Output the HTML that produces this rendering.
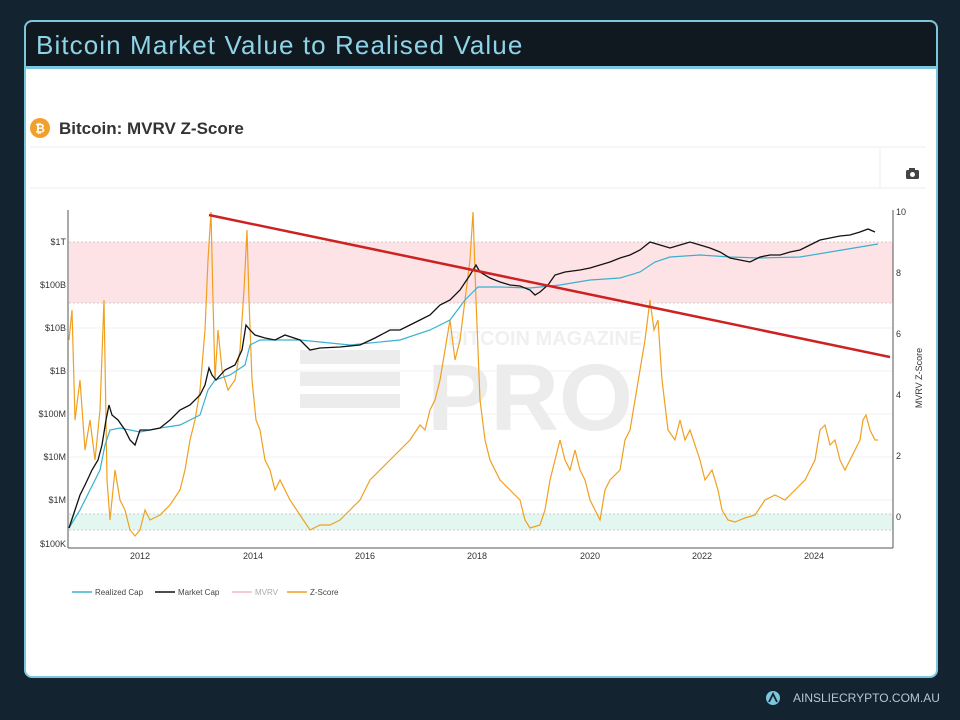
<!DOCTYPE html><html><head><style>
body{margin:0;width:960px;height:720px;background:#13232f;font-family:"Liberation Sans",sans-serif;position:relative;overflow:hidden}
.card{position:absolute;left:24px;top:20px;width:910px;height:654px;border:2px solid #7cc7dd;border-radius:8px;background:#fff;overflow:hidden}
.hdr{height:44px;background:#101820;border-bottom:3px solid #7cc7dd;color:#8fd3e6;font-size:26px;line-height:46px;padding-left:10px;letter-spacing:1.1px}
.foot{position:absolute;left:793px;top:691px;color:#b9c6cf;font-size:12px;letter-spacing:0}
</style></head><body>
<div class="card"><div class="hdr">Bitcoin Market Value to Realised Value</div></div>
<svg width="960" height="720" style="position:absolute;left:0;top:0">
<circle cx="40" cy="128" r="10" fill="#f2a02c"/><text x="40" y="132.5" font-size="12" fill="#fff" text-anchor="middle" font-weight="bold">₿</text>
<text x="59" y="134" font-size="17" font-weight="bold" fill="#333">Bitcoin: MVRV Z-Score</text>
<line x1="30" y1="147" x2="926" y2="147" stroke="#eee"/><line x1="30" y1="188" x2="926" y2="188" stroke="#eee"/>
<line x1="880" y1="148" x2="880" y2="188" stroke="#eee"/>
<rect x="906" y="170" width="13" height="9" rx="1.5" fill="#444"/><rect x="909" y="168" width="6" height="3" fill="#444"/><circle cx="912.5" cy="174.5" r="2.5" fill="#fff"/>
<rect x="69" y="242" width="824" height="61" fill="#fde3e6"/>
<rect x="69" y="514" width="824" height="16" fill="#e3f7f0"/>
<g stroke="#ccc" stroke-dasharray="2,2"><line x1="69" y1="242" x2="893" y2="242"/><line x1="69" y1="303" x2="893" y2="303"/><line x1="69" y1="514" x2="893" y2="514"/><line x1="69" y1="530" x2="893" y2="530"/></g>
<g stroke="#f0f0f0"><line x1="69" y1="328" x2="893" y2="328"/><line x1="69" y1="371" x2="893" y2="371"/><line x1="69" y1="414" x2="893" y2="414"/><line x1="69" y1="457" x2="893" y2="457"/><line x1="69" y1="500" x2="893" y2="500"/></g>
<text x="530" y="430" font-size="95" font-weight="bold" fill="#ececec" text-anchor="middle">PRO</text>
<text x="545" y="345" font-size="20" font-weight="bold" fill="#f0f0f0" text-anchor="middle">BITCOIN MAGAZINE</text>
<g fill="#ececec"><rect x="300" y="350" width="100" height="14"/><rect x="300" y="372" width="100" height="14"/><rect x="300" y="394" width="100" height="14"/></g>
<line x1="68" y1="210" x2="68" y2="548" stroke="#555"/><line x1="68" y1="548" x2="893" y2="548" stroke="#555"/><line x1="893" y1="210" x2="893" y2="548" stroke="#555"/>
<g font-size="9" fill="#333" text-anchor="end"><text x="66" y="245">$1T</text><text x="66" y="288">$100B</text><text x="66" y="331">$10B</text><text x="66" y="374">$1B</text><text x="66" y="417">$100M</text><text x="66" y="460">$10M</text><text x="66" y="503">$1M</text><text x="66" y="547">$100K</text></g>
<g font-size="9" fill="#333"><text x="896" y="215">10</text><text x="896" y="276">8</text><text x="896" y="337">6</text><text x="896" y="398">4</text><text x="896" y="459">2</text><text x="896" y="520">0</text></g>
<text transform="translate(922,378) rotate(-90)" font-size="9" fill="#333" text-anchor="middle">MVRV Z-Score</text>
<g font-size="9" fill="#333" text-anchor="middle"><text x="140" y="559">2012</text><text x="253" y="559">2014</text><text x="365" y="559">2016</text><text x="477" y="559">2018</text><text x="590" y="559">2020</text><text x="702" y="559">2022</text><text x="814" y="559">2024</text></g>
<polyline fill="none" stroke="#f0a020" stroke-width="1.2" points="69,340 72,310 75,420 80,380 85,450 90,420 95,460 100,410 104,300 107,480 110,520 115,470 120,500 125,510 130,530 135,536 140,530 145,510 150,520 160,515 170,505 180,490 185,470 190,440 195,420 200,390 205,330 208,260 211,212 213,300 215,380 218,330 222,370 228,390 235,380 240,350 244,290 247,230 249,300 252,380 256,420 260,430 265,460 270,470 275,490 280,480 290,500 300,515 310,530 320,525 330,525 340,520 350,510 360,500 370,480 380,470 390,460 400,450 410,440 420,425 425,430 430,410 435,400 440,380 445,350 450,320 455,360 460,340 465,300 470,260 473,212 476,300 480,400 485,440 490,460 500,480 510,490 520,500 525,520 530,528 540,525 545,510 550,480 555,460 560,440 565,460 570,470 575,450 580,470 585,480 590,500 595,510 600,520 605,490 610,480 620,470 625,440 630,430 635,400 640,370 645,340 650,300 654,330 658,320 662,380 668,430 675,440 680,420 685,440 690,430 700,460 705,480 712,470 718,490 722,510 728,520 735,522 745,518 755,515 765,500 775,495 785,500 795,490 805,480 815,460 820,430 825,425 830,445 835,440 840,460 845,470 850,460 855,450 860,440 863,420 866,415 870,430 875,440 878,440"/>
<polyline fill="none" stroke="#3ab0d0" stroke-width="1.2" points="69,528 80,510 90,490 100,470 105,445 110,430 120,428 140,432 160,428 180,425 200,415 208,390 215,380 230,375 245,365 250,345 260,340 300,340 350,345 400,340 430,330 450,320 465,300 478,287 500,287 530,288 560,285 590,280 620,278 640,272 655,262 670,257 700,255 730,257 760,258 800,257 830,252 860,247 878,244"/>
<polyline fill="none" stroke="#111" stroke-width="1.3" points="69,528 75,510 80,495 85,485 92,470 98,460 102,445 106,420 109,405 112,415 118,420 125,430 130,440 135,445 140,430 150,430 160,428 170,420 180,410 190,405 200,395 205,385 209,368 212,375 216,380 225,370 235,365 242,350 246,325 250,330 255,335 265,338 275,340 285,335 300,340 310,350 320,348 340,347 360,345 375,338 390,330 400,330 410,325 420,320 430,315 440,305 450,300 460,290 470,275 476,265 480,272 490,278 500,282 510,285 520,286 530,290 535,295 540,292 548,285 555,275 565,272 580,270 590,268 600,265 610,262 620,258 630,255 640,250 650,242 660,245 670,248 680,245 690,242 700,245 710,248 720,252 730,258 740,260 750,262 760,257 770,255 780,255 790,252 800,250 810,245 820,240 830,238 840,236 850,235 860,232 868,229 875,232"/>
<line x1="209" y1="215" x2="890" y2="357" stroke="#cc2222" stroke-width="2.5"/>
<g font-size="8" fill="#444"><line x1="72" y1="592" x2="92" y2="592" stroke="#3ab0d0" stroke-width="1.5"/><text x="95" y="595">Realized Cap</text>
<line x1="155" y1="592" x2="175" y2="592" stroke="#111" stroke-width="1.5"/><text x="178" y="595">Market Cap</text>
<line x1="232" y1="592" x2="252" y2="592" stroke="#f4b8c0" stroke-width="1.5"/><text x="255" y="595" fill="#aaa">MVRV</text>
<line x1="287" y1="592" x2="307" y2="592" stroke="#f0a020" stroke-width="1.5"/><text x="310" y="595">Z-Score</text></g>
<circle cx="773" cy="698" r="7" fill="#7cc7dd"/><path d="M769 702 L773 694 L777 702" fill="none" stroke="#13232f" stroke-width="1.8"/>
</svg>
<div class="foot">AINSLIECRYPTO.COM.AU</div>
</body></html>
